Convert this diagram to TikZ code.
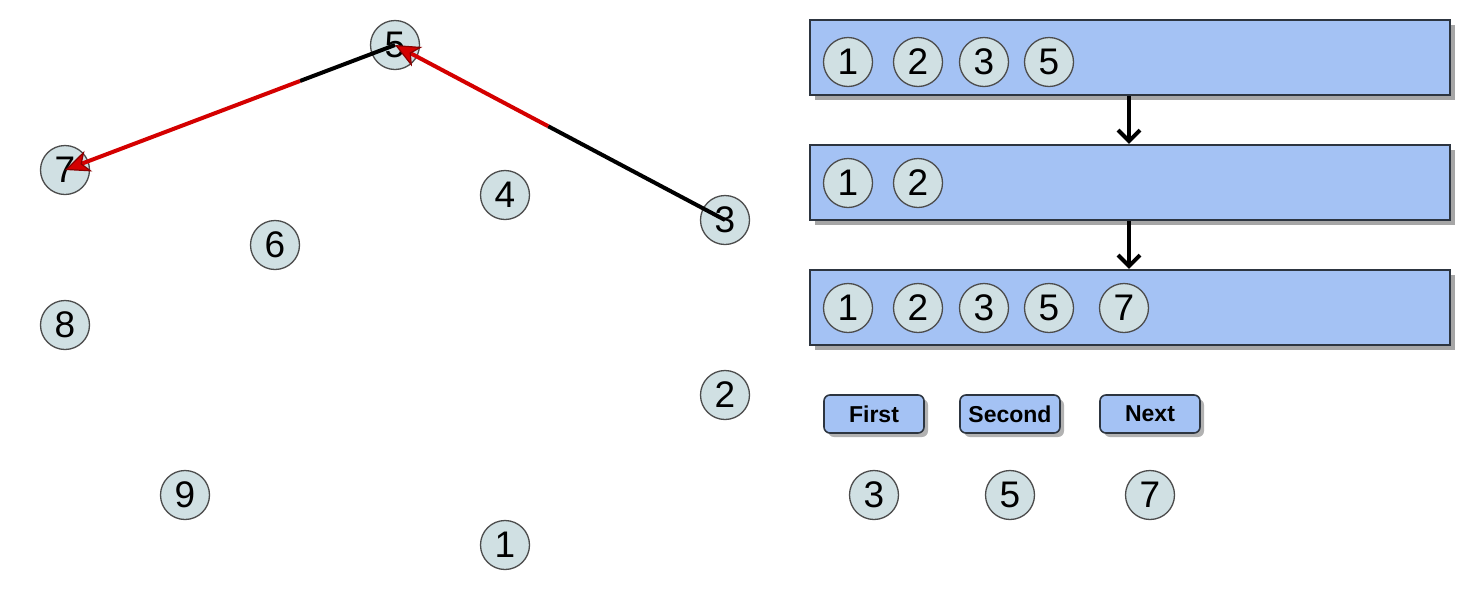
\documentclass[tikz,border=0pt]{standalone}
\usepackage{fontspec}
\setmainfont{Liberation Sans}
\usetikzlibrary{arrows.meta,calc,shadows}
\definecolor{cfill}{HTML}{D0E0E3}
\definecolor{bfill}{HTML}{A4C2F4}
\definecolor{bdraw}{HTML}{2D3540}
\definecolor{redl}{HTML}{D40000}
\definecolor{redd}{HTML}{8A0000}
\tikzset{
  circ/.style={circle, fill=cfill, draw=black!70, line width=1.3pt, minimum size=49pt, inner sep=0pt, font=\fontsize{37}{39}\selectfont},
  panel/.style={rectangle, fill=bfill, draw=bdraw, line width=2.2pt, minimum width=640pt, minimum height=75pt, inner sep=0pt, drop shadow={shadow xshift=5pt, shadow yshift=-5pt, fill=black!35, opacity=1}},
  btn/.style={rectangle, rounded corners=6pt, fill=bfill, draw=bdraw, line width=1.6pt, minimum width=100pt, minimum height=38pt, inner sep=0pt, font=\fontsize{23}{25}\selectfont\bfseries, drop shadow={shadow xshift=4pt, shadow yshift=-4pt, fill=black!30, opacity=1}},
  blk/.style={line width=4pt, black},
  redarr/.style={line width=4pt, redl, -{Stealth[length=25pt, width=22pt, inset=7pt, fill=redl, line width=1.2pt, color=redd]}},
  down/.style={line width=4pt, black, -{Straight Barb[length=11pt, width=22pt, line width=4pt]}}
}
\begin{document}
\begin{tikzpicture}[x=1pt, y=-1pt]
\useasboundingbox (0,0) rectangle (1470,590);
% left graph nodes
\node[circ] (n5) at (395,45) {5};
\node[circ] (n7) at (65,170) {7};
\node[circ] (n4) at (505,195) {4};
\node[circ] (n3) at (725,220) {3};
\node[circ] (n6) at (275,245) {6};
\node[circ] (n8) at (65,325) {8};
\node[circ] (n2) at (725,395) {2};
\node[circ] (n9) at (185,495) {9};
\node[circ] (n1) at (505,545) {1};
% edges
\coordinate (m35) at ($(n3.center)!0.536!(n5.center)$);
\coordinate (m57) at ($(n5.center)!0.288!(n7.center)$);
\draw[blk] (n3.center) -- (m35);
\draw[redarr] (m35) -- (n5.center);
\draw[blk] (n5.center) -- (m57);
\draw[redarr] (m57) -- (n7.center);
% right panels
\node[panel] (p1) at (1130,57.5) {};
\node[panel] (p2) at (1130,182.5) {};
\node[panel] (p3) at (1130,307.5) {};
\node[circ] (a1) at (848,62) {1};
\node[circ] (a2) at (918,62) {2};
\node[circ] (a3) at (984,62) {3};
\node[circ] (a5) at (1049,62) {5};
\node[circ] (b1) at (848,183) {1};
\node[circ] (b2) at (918,183) {2};
\node[circ] (c1) at (848,308) {1};
\node[circ] (c2) at (918,308) {2};
\node[circ] (c3) at (984,308) {3};
\node[circ] (c5) at (1049,308) {5};
\node[circ] (c7) at (1124,308) {7};
\draw[down] (p1.south -| 1129,0) -- (p2.north -| 1129,0);
\draw[down] (p2.south -| 1129,0) -- (p3.north -| 1129,0);
% buttons
\node[btn] (first) at (874,414) {First};
\node[btn] (second) at (1010,414) {Second};
\node[btn] (next) at (1150,414) {Next};
\node[circ] (r3) at (874,495) {3};
\node[circ] (r5) at (1010,495) {5};
\node[circ] (r7) at (1150,495) {7};
\end{tikzpicture}
\end{document}
